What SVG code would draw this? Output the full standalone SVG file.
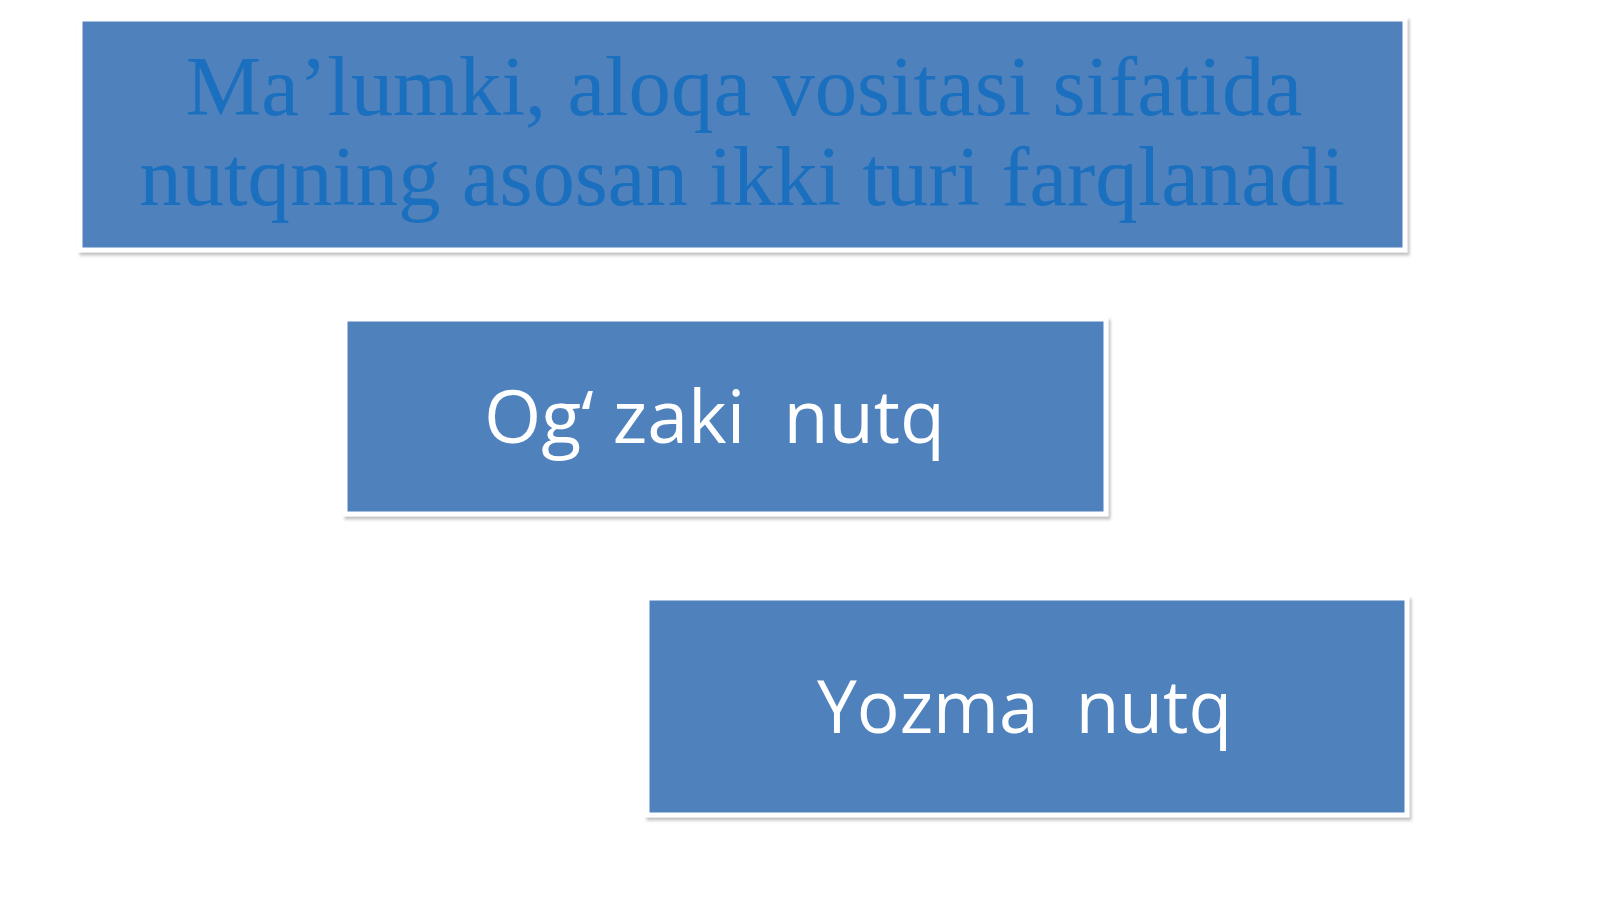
<svg xmlns="http://www.w3.org/2000/svg" width="1600" height="899" viewBox="0 0 1600 899">
  <defs>
    <filter id="shadow" x="-5%" y="-5%" width="110%" height="115%">
      <feDropShadow dx="2" dy="3" stdDeviation="1.5" flood-color="#9a9a9a" flood-opacity="0.6"/>
    </filter>
  </defs>
  <style>
    .box { fill: #4f81bd; stroke: #ffffff; stroke-width: 5; filter: url(#shadow); }
    .title { font-family: "Liberation Serif", "Times New Roman", serif; font-size: 84.8px; fill: #1a6fbe; text-anchor: middle; }
    .label { font-family: "Open Sans", "Noto Sans", sans-serif; font-size: 74px; fill: #ffffff; text-anchor: middle; }
  </style>
  <rect x="0" y="0" width="1600" height="899" fill="#ffffff"/>
  <g id="node-title">
    <rect class="box" x="80" y="19" width="1325" height="231"/>
    <text class="title" x="744" y="115">Ma’lumki, aloqa vositasi sifatida</text>
    <text class="title" x="742" y="205">nutqning asosan ikki turi farqlanadi</text>
  </g>
  <g id="node-ogzaki">
    <rect class="box" x="345" y="319" width="761" height="195"/>
    <text class="label" x="714.5" y="443" xml:space="preserve" textLength="461" lengthAdjust="spacingAndGlyphs">Og‘ zaki  nutq</text>
  </g>
  <g id="node-yozma">
    <rect class="box" x="647" y="598" width="760" height="217"/>
    <text class="label" x="1024.5" y="733" xml:space="preserve" textLength="415" lengthAdjust="spacingAndGlyphs">Yozma  nutq</text>
  </g>
  <g id="connectors"></g>
</svg>
